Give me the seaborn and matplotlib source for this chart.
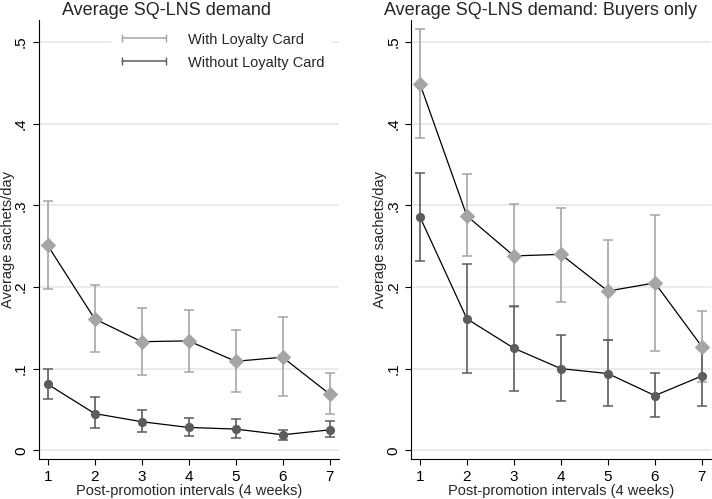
"""Average SQ-LNS demand by post-promotion interval, with and without loyalty card."""

import numpy as np
import pandas as pd
import matplotlib
matplotlib.use("Agg")
import matplotlib.pyplot as plt
from matplotlib.lines import Line2D
import seaborn as sns

# Data
periods = [1, 2, 3, 4, 5, 6, 7]

left_with = [0.251, 0.161, 0.133, 0.134, 0.109, 0.114, 0.069]
left_with_lo = [0.198, 0.120, 0.092, 0.096, 0.071, 0.067, 0.045]
left_with_hi = [0.305, 0.202, 0.174, 0.172, 0.147, 0.163, 0.095]
left_without = [0.081, 0.045, 0.035, 0.028, 0.026, 0.019, 0.025]
left_without_lo = [0.063, 0.027, 0.022, 0.018, 0.015, 0.012, 0.016]
left_without_hi = [0.100, 0.065, 0.049, 0.039, 0.038, 0.025, 0.036]

right_with = [0.449, 0.287, 0.238, 0.240, 0.195, 0.205, 0.127]
right_with_lo = [0.382, 0.238, 0.176, 0.182, 0.135, 0.122, 0.084]
right_with_hi = [0.516, 0.338, 0.302, 0.297, 0.257, 0.288, 0.170]
right_without = [0.286, 0.161, 0.125, 0.100, 0.094, 0.067, 0.091]
right_without_lo = [0.232, 0.095, 0.073, 0.060, 0.054, 0.041, 0.054]
right_without_hi = [0.340, 0.228, 0.177, 0.141, 0.135, 0.095, 0.126]

y_ticks = [0, 0.1, 0.2, 0.3, 0.4, 0.5]
y_tick_labels = ["0", ".1", ".2", ".3", ".4", ".5"]
series_names = ["With Loyalty Card", "Without Loyalty Card"]

WITH_COLOR = "#a5a5a5"
WITHOUT_COLOR = "#5c5c5c"

sns.set_style("white")
plt.rcParams["font.family"] = ["Liberation Sans", "DejaVu Sans"]


def make_frame(with_vals, with_lo, with_hi, without_vals, without_lo, without_hi):
    rows = []
    for name, v, lo, hi in [(series_names[0], with_vals, with_lo, with_hi),
                            (series_names[1], without_vals, without_lo, without_hi)]:
        for p, a, b, c in zip(periods, v, lo, hi):
            rows.append({"Interval": p, "Card": name, "Mean": a, "Lo": b, "Hi": c})
    return pd.DataFrame(rows)


def draw_panel(ax, df, title_x, title):
    styles = {series_names[0]: (WITH_COLOR, "D", 62),
              series_names[1]: (WITHOUT_COLOR, "o", 44)}
    for name in series_names:
        sub = df[df["Card"] == name]
        color = styles[name][0]
        ax.errorbar(sub["Interval"], sub["Mean"],
                    yerr=[sub["Mean"] - sub["Lo"], sub["Hi"] - sub["Mean"]],
                    fmt="none", ecolor=color, elinewidth=1.2, capsize=3.3,
                    capthick=1.1, zorder=2)
    for name in series_names:
        sub = df[df["Card"] == name]
        color, marker, size = styles[name]
        sns.lineplot(data=sub, x="Interval", y="Mean", color="black",
                     linewidth=0.9, ax=ax, zorder=3)
        sns.scatterplot(data=sub, x="Interval", y="Mean", color=color,
                        marker=marker, s=size, edgecolor=color, linewidth=0,
                        ax=ax, zorder=4)

    ax.set_xlim(0.81, 7.2)
    ax.set_ylim(-0.011, 0.527)
    ax.set_xticks(periods)
    ax.set_yticks(y_ticks, labels=y_tick_labels)
    ax.tick_params(axis="y", labelrotation=90)
    for lab in ax.get_yticklabels():
        lab.set_va("center")
    ax.tick_params(axis="both", direction="out", length=4.5, width=0.8,
                   colors="black", labelsize=11, pad=3.2, left=True, bottom=True)
    ax.grid(axis="y", color="#e6e6e6", linewidth=1.1)
    ax.grid(axis="x", visible=False)
    for side in ["top", "right"]:
        ax.spines[side].set_visible(False)
    for side in ["left", "bottom"]:
        ax.spines[side].set_color("black")
        ax.spines[side].set_linewidth(0.8)
    ax.set_xlabel("Post-promotion intervals (4 weeks)", fontsize=10.5, labelpad=0)
    ax.set_ylabel("Average sachets/day", fontsize=10.5)
    ax.yaxis.label.set_va("center")
    ax.yaxis.set_label_coords(-0.102, 0.5)
    ax.figure.text(title_x, 0.978, title, ha="center", va="center", fontsize=13)


fig = plt.figure(figsize=(7.12, 4.99), dpi=100)
ax1 = fig.add_axes([0.0544, 0.0796, 0.4216, 0.8804])
ax2 = fig.add_axes([0.5772, 0.0796, 0.4218, 0.8804])

left_df = make_frame(left_with, left_with_lo, left_with_hi,
                     left_without, left_without_lo, left_without_hi)
right_df = make_frame(right_with, right_with_lo, right_with_hi,
                      right_without, right_without_lo, right_without_hi)

draw_panel(ax1, left_df, 167 / 712, "Average SQ-LNS demand")
draw_panel(ax2, right_df, 540 / 712, "Average SQ-LNS demand: Buyers only")

handles = [Line2D([], [], color=WITH_COLOR, marker="|", markersize=6, lw=1.1),
           Line2D([], [], color=WITHOUT_COLOR, marker="|", markersize=6, lw=1.1)]
ax1.legend(handles, series_names, loc="upper left", bbox_to_anchor=(0.158, 0.945),
           bbox_transform=fig.transFigure, numpoints=2, handlelength=3.6,
           handletextpad=1.25, labelspacing=0.62, borderpad=0.35,
           borderaxespad=0, frameon=True, facecolor="white", edgecolor="white",
           framealpha=1, fancybox=False, fontsize=10.5)

fig.savefig("out.png", dpi=100)
plt.close(fig)
